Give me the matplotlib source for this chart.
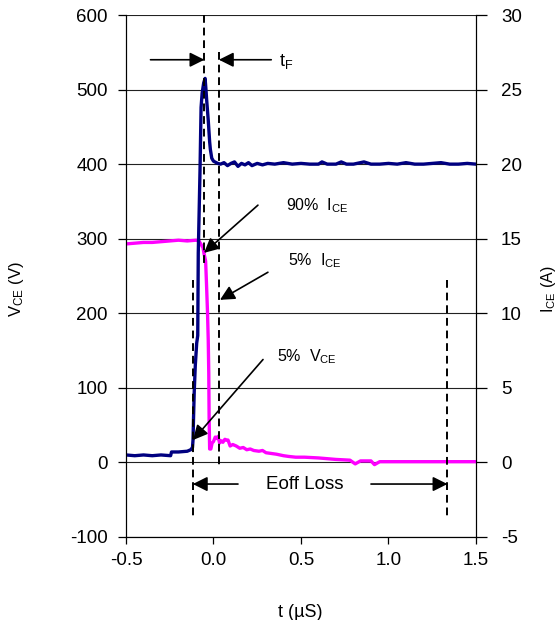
import numpy as np
import matplotlib
matplotlib.use("Agg")
import matplotlib.pyplot as plt

plt.rcParams['font.family'] = ['Liberation Sans', 'DejaVu Sans']
plt.rcParams['mathtext.fontset'] = 'custom'
plt.rcParams['mathtext.rm'] = 'Liberation Sans'
plt.rcParams['mathtext.it'] = 'Liberation Sans'
plt.rcParams['axes.unicode_minus'] = False

# collector-emitter voltage during turn-off (t in us, V)
t_vce = [-0.50, -0.45, -0.40, -0.35, -0.30, -0.245, -0.24, -0.20, -0.15, -0.13, -0.12,
         -0.117, -0.114, -0.110, -0.104, -0.096, -0.090, -0.087, -0.083, -0.077, -0.071,
         -0.065, -0.056, -0.048, -0.043, -0.039, -0.030, -0.022, -0.018, -0.010, 0.0,
         0.024, 0.04, 0.06, 0.08, 0.10, 0.12, 0.14, 0.16, 0.18, 0.20, 0.22, 0.25, 0.28,
         0.31, 0.35, 0.40, 0.45, 0.50, 0.55, 0.60, 0.62, 0.65, 0.70, 0.73, 0.76, 0.80,
         0.86, 0.90, 0.95, 1.00, 1.05, 1.10, 1.15, 1.20, 1.25, 1.30, 1.35, 1.40, 1.45, 1.50]
vce = [10, 9, 10, 9, 10, 9, 14, 14, 15, 17, 20,
       30, 60, 95, 130, 160, 170, 281, 325, 392, 476,
       495, 509, 515, 500, 486, 459, 430, 420, 408, 404,
       401, 400, 402, 398, 401, 403, 397, 401, 399, 402, 398, 401, 399,
       401, 400, 402, 400, 401, 400, 400, 403, 400, 400, 403, 400, 400,
       403, 400, 400, 401, 400, 402, 400, 400, 401, 402, 400, 400, 401, 400]

# collector-emitter current during turn-off (t in us, A)
t_ice = [-0.50, -0.45, -0.40, -0.35, -0.30, -0.25, -0.20, -0.15, -0.10, -0.083, -0.06,
         -0.054, -0.045, -0.040, -0.034, -0.030, -0.027, -0.025, -0.022, -0.015, -0.008,
         0.0, 0.01, 0.02, 0.026, 0.035, 0.045, 0.054, 0.065, 0.075, 0.083, 0.095, 0.11,
         0.13, 0.15, 0.17, 0.19, 0.21, 0.23, 0.26, 0.28, 0.30, 0.33, 0.36, 0.40, 0.43,
         0.47, 0.52, 0.60, 0.70, 0.78, 0.81, 0.84, 0.90, 0.92, 0.95, 1.00, 1.10, 1.20,
         1.30, 1.40, 1.50]
ice = [14.65, 14.7, 14.75, 14.75, 14.8, 14.85, 14.9, 14.85, 14.9, 14.85, 14.4,
       14.0, 13.5, 12.0, 10.0, 8.2, 6.0, 3.0, 0.9, 0.9, 1.3,
       1.4, 1.7, 1.6, 1.75, 1.3, 1.45, 1.35, 1.55, 1.5, 1.5, 1.1, 1.2,
       1.1, 0.95, 1.0, 0.85, 0.9, 0.8, 0.75, 0.8, 0.65, 0.6, 0.55, 0.45, 0.4,
       0.35, 0.35, 0.3, 0.2, 0.15, -0.1, 0.1, 0.1, -0.15, 0.05, 0.05, 0.05, 0.05,
       0.05, 0.05, 0.05]

v_ticks = [-100, 0, 100, 200, 300, 400, 500, 600]
i_ticks = [-5, 0, 5, 10, 15, 20, 25, 30]
t_ticks = [-0.5, 0.0, 0.5, 1.0, 1.5]

fig = plt.figure(figsize=(5.58, 6.2), dpi=100)
ax = fig.add_axes([0.2258, 0.1339, 0.6272, 0.8419])
ax2 = ax.twinx()
ax.set_zorder(ax2.get_zorder() + 1)
ax.patch.set_visible(False)

ax2.plot(t_ice, ice, color='#ff00ff', lw=2.4, solid_joinstyle='round')
ax.plot(t_vce, vce, color='#000080', lw=2.4, solid_joinstyle='round')

ax.set_xlim(-0.5, 1.5)
ax.set_ylim(-100, 600)
ax2.set_ylim(-5, 30)
ax.set_xticks(t_ticks)
ax.set_xticklabels(['-0.5', '0.0', '0.5', '1.0', '1.5'])
ax.set_yticks(v_ticks)
ax2.set_yticks(i_ticks)

ax2.grid(axis='y', color='#222222', lw=0.8)
for a in (ax, ax2):
    a.spines['top'].set_visible(False)
    a.tick_params(labelsize=13.5, width=0.9, color='k')
ax.tick_params(axis='y', direction='out', length=6, pad=7)
ax.tick_params(axis='x', direction='out', length=5, pad=6)
ax2.tick_params(axis='y', direction='out', length=8, pad=10)

ax.set_ylabel('V$_{\\mathrm{CE}}$ (V)', fontsize=12)
ax.yaxis.set_label_coords(-0.285, 0.475)
ax2.set_ylabel('I$_{\\mathrm{CE}}$ (A)', fontsize=11.5)
ax2.yaxis.set_label_coords(1.18, 0.475)
ax.set_xlabel('t (\u00b5S)', fontsize=13)
ax.xaxis.set_label_coords(0.497, -0.128)

# timing markers
dash = dict(color='k', lw=1.4, ls=(0, (4, 2.5)))
ax.plot([-0.052, -0.052], [600, 262], **dash)
ax.plot([0.031, 0.031], [550, -8], **dash)
ax.plot([-0.118, -0.118], [245, -77], **dash)
ax.plot([1.337, 1.337], [245, -77], **dash)

arr = dict(arrowstyle='-|>', color='k', lw=1.2, mutation_scale=22, shrinkA=0, shrinkB=0)
ax.annotate('', xy=(-0.052, 540), xytext=(-0.36, 540), arrowprops=arr)
ax.annotate('', xy=(0.031, 540), xytext=(0.33, 540), arrowprops=arr)
ax.text(0.375, 537, 't$_{\\mathrm{F}}$', fontsize=13, va='center', ha='left')

ax.annotate('', xy=(-0.054, 281), xytext=(0.254, 345), arrowprops=arr)
ax.text(0.414, 345, '90%  I$_{\\mathrm{CE}}$', fontsize=11.5, va='center', ha='left')

ax.annotate('', xy=(0.037, 218), xytext=(0.311, 255), arrowprops=arr)
ax.text(0.426, 270, '5%  I$_{\\mathrm{CE}}$', fontsize=11.5, va='center', ha='left')

ax.annotate('', xy=(-0.117, 30), xytext=(0.283, 138), arrowprops=arr)
ax.text(0.363, 142, '5%  V$_{\\mathrm{CE}}$', fontsize=11.5, va='center', ha='left')

ax.annotate('', xy=(-0.118, -29), xytext=(0.14, -29), arrowprops=arr)
ax.annotate('', xy=(1.337, -29), xytext=(0.90, -29), arrowprops=arr)
ax.text(0.52, -29, 'Eoff Loss', fontsize=13.5, va='center', ha='center')

fig.savefig('out.png', dpi=100)
